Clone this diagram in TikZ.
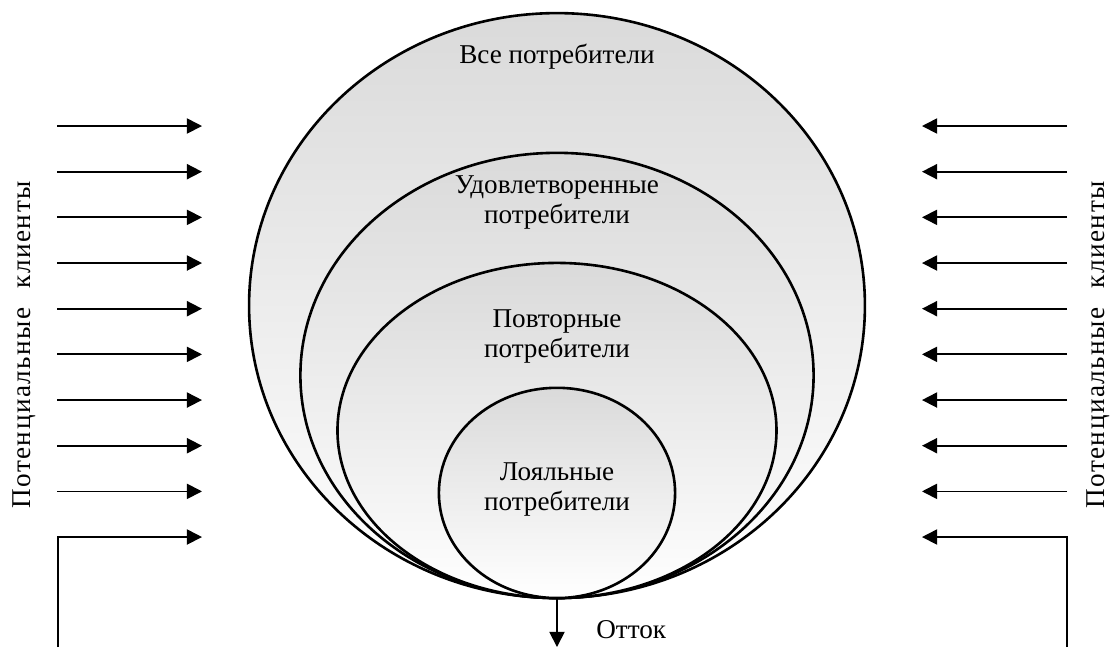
\documentclass[tikz,border=0pt]{standalone}
\usepackage{fontspec}
\setmainfont{Liberation Serif}
\newfontfamily\widefont[LetterSpace=5.5]{Liberation Serif}
\usepackage{tikz}
\usetikzlibrary{calc,positioning,arrows.meta,shapes.geometric}
\definecolor{ovalgray}{RGB}{218,218,218}

\begin{document}
\begin{tikzpicture}[oval/.style={ellipse,draw,line width=1.2pt,inner sep=0pt,outer sep=0pt,anchor=south,top color=ovalgray,bottom color=white},
                    txt/.style={align=center,font=\fontsize{12.5}{13.8}\selectfont},
                    side/.style={rotate=90,font=\widefont\fontsize{12.5}{14}\selectfont},
                    flow/.style={line width=0.8pt,-{Triangle[length=7pt,width=7pt]}}]
                      \useasboundingbox (0,0) rectangle (18,10.464);
                      \coordinate (base) at (9.008,0.792);

                      \node[oval,minimum width=9.96cm,minimum height=9.46cm] (all) at (base) {};
                      \node[oval,minimum width=8.30cm,minimum height=7.20cm] (sat) at (base) {};
                      \node[oval,minimum width=7.10cm,minimum height=5.42cm] (rep) at (base) {};
                      \node[oval,minimum width=3.82cm,minimum height=3.40cm] (loy) at (base) {};

                      \node[txt] (tall) at (9.008,9.55) {Все потребители};
                      \node[txt] (tsat) at (9.008,7.197) {Удовлетворенные\\потребители};
                      \node[txt] (trep) at (9.008,5.014) {Повторные\\потребители};
                      \node[txt] (tloy) at (9.008,2.555) {Лояльные\\потребители};

                      \foreach \i in {0,...,8} {
                        \coordinate (ls\i) at (0.922,8.426-0.7386*\i);
                        \coordinate (le\i) at (3.267,8.426-0.7386*\i);
                        \coordinate (rs\i) at (17.257,8.426-0.7386*\i);
                        \coordinate (re\i) at (14.911,8.426-0.7386*\i);
                        \draw[flow] (ls\i) -- (le\i);
                        \draw[flow] (rs\i) -- (re\i);
                      }
                      \coordinate (lb) at (0.938,0);
                      \coordinate (le9) at (3.267,1.779);
                      \coordinate (rb) at (17.257,0);
                      \coordinate (re9) at (14.911,1.779);
                      \draw[flow] (lb) |- (le9);
                      \draw[flow] (rb) |- (re9);

                      \coordinate (out) at (9.008,0);
                      \draw[flow] (base) -- (out);
                      \node[txt,anchor=west] (tout) at (9.52,0.28) {Отток};

                      \node[side] (lpot) at (0.39,4.884) {Потенциальные\hspace{0.7em}клиенты};
                      \node[side] (rpot) at (17.76,4.884) {Потенциальные\hspace{0.7em}клиенты};
                    \end{tikzpicture}
\end{document}
